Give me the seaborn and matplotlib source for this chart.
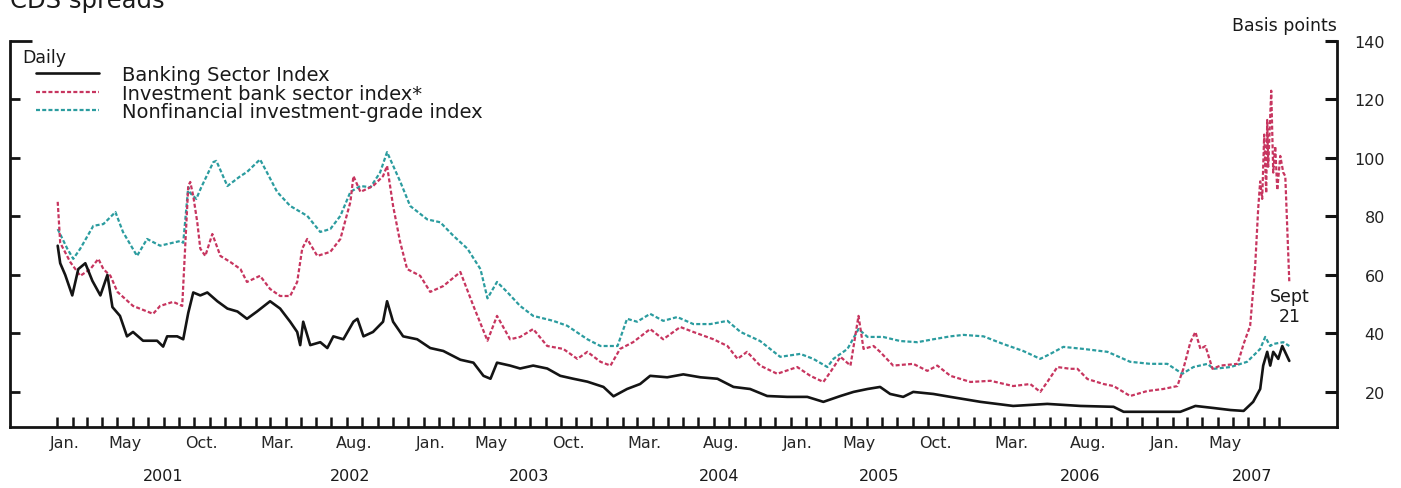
import matplotlib
matplotlib.use("Agg")
import matplotlib.pyplot as plt
import matplotlib.transforms as mtransforms
from matplotlib.lines import Line2D
import pandas as pd
import seaborn as sns

# ---- CDS spreads, basis points (daily, sampled at turning points) ----
bank_dates = [
    "2001-01-02", "2001-01-07", "2001-01-17", "2001-01-31", "2001-02-12", "2001-02-26",
    "2001-03-12", "2001-03-28", "2001-04-11", "2001-04-21", "2001-05-06", "2001-05-20",
    "2001-06-01", "2001-06-21", "2001-07-19", "2001-07-31", "2001-08-08", "2001-08-28",
    "2001-09-09", "2001-09-19", "2001-09-29", "2001-10-13", "2001-10-27", "2001-11-16",
    "2001-12-06", "2001-12-26", "2002-01-14", "2002-02-03", "2002-03-01", "2002-03-21",
    "2002-04-10", "2002-04-24", "2002-04-30", "2002-05-06", "2002-05-20", "2002-06-09",
    "2002-06-23", "2002-07-05", "2002-07-25", "2002-08-14", "2002-08-22", "2002-09-03",
    "2002-09-22", "2002-10-12", "2002-10-20", "2002-11-01", "2002-11-21", "2002-12-19",
    "2003-01-14", "2003-02-09", "2003-03-15", "2003-04-10", "2003-04-30", "2003-05-14",
    "2003-05-27", "2003-06-22", "2003-07-12", "2003-08-07", "2003-09-04", "2003-09-30",
    "2003-10-26", "2003-11-23", "2003-12-25", "2004-01-14", "2004-02-10", "2004-03-07",
    "2004-03-27", "2004-04-30", "2004-06-01", "2004-07-05", "2004-08-08", "2004-09-09",
    "2004-10-12", "2004-11-15", "2004-12-25", "2005-02-03", "2005-03-07", "2005-04-10",
    "2005-05-06", "2005-06-03", "2005-06-28", "2005-07-18", "2005-08-13", "2005-09-02",
    "2005-10-12", "2005-11-15", "2006-01-14", "2006-03-20", "2006-05-27", "2006-08-01",
    "2006-10-06", "2006-10-26", "2006-12-12", "2007-02-16", "2007-03-18", "2007-04-23",
    "2007-05-27", "2007-06-22", "2007-07-11", "2007-07-25", "2007-07-31", "2007-08-08",
    "2007-08-14", "2007-08-20", "2007-08-30", "2007-09-07", "2007-09-21",
]
bank_bp = [
    70, 64, 60, 53, 62, 64, 58, 53, 60, 49,
    46, 39, 40.5, 37.5, 37.5, 35.5, 39, 39, 38, 47,
    54, 53, 54, 51, 48.5, 47.5, 45, 47.5, 51, 48.5,
    44, 40.5, 36, 44, 36, 37, 35, 39, 38, 44,
    45, 39, 40.5, 44, 51, 44, 39, 38, 35, 34,
    31, 30, 25.5, 24.5, 30, 29, 28, 29, 28, 25.5,
    24.5, 23.5, 21.7, 18.5, 21, 22.7, 25.5, 25, 26, 25,
    24.5, 21.7, 21, 18.6, 18.3, 18.3, 16.6, 18.6, 20, 21,
    21.7, 19.3, 18.3, 20, 19.3, 18.3, 16.6, 15.2, 15.9, 15.2,
    14.9, 13.2, 13.2, 13.2, 15.2, 14.5, 13.8, 13.5, 16.6, 21,
    29, 33.7, 29, 33.7, 31.3, 35.7, 30.6,
]

ib_dates = [
    "2001-01-02", "2001-01-07", "2001-01-27", "2001-02-16", "2001-03-08", "2001-03-24",
    "2001-04-03", "2001-04-17", "2001-05-01", "2001-06-01", "2001-07-11", "2001-07-25",
    "2001-08-20", "2001-09-07", "2001-09-19", "2001-09-23", "2001-09-29", "2001-10-07",
    "2001-10-13", "2001-10-23", "2001-11-06", "2001-11-22", "2001-12-12", "2002-01-01",
    "2002-01-14", "2002-02-09", "2002-03-01", "2002-03-21", "2002-04-10", "2002-04-24",
    "2002-05-04", "2002-05-14", "2002-06-03", "2002-06-29", "2002-07-19", "2002-08-08",
    "2002-08-14", "2002-08-28", "2002-09-22", "2002-10-12", "2002-10-20", "2002-11-01",
    "2002-11-15", "2002-11-29", "2002-12-25", "2003-01-14", "2003-02-09", "2003-03-15",
    "2003-04-10", "2003-05-08", "2003-05-27", "2003-06-22", "2003-07-12", "2003-08-07",
    "2003-09-04", "2003-10-06", "2003-11-03", "2003-11-23", "2003-12-19", "2004-01-08",
    "2004-01-27", "2004-02-22", "2004-03-27", "2004-04-22", "2004-05-26", "2004-06-21",
    "2004-07-31", "2004-08-28", "2004-09-17", "2004-10-06", "2004-11-01", "2004-12-05",
    "2005-01-14", "2005-02-09", "2005-03-07", "2005-03-21", "2005-04-10", "2005-04-30",
    "2005-05-16", "2005-05-26", "2005-06-15", "2005-06-28", "2005-07-24", "2005-09-02",
    "2005-09-30", "2005-10-20", "2005-11-15", "2005-12-25", "2006-02-03", "2006-03-20",
    "2006-04-23", "2006-05-13", "2006-05-27", "2006-06-16", "2006-07-12", "2006-07-26",
    "2006-08-15", "2006-09-16", "2006-10-06", "2006-11-08", "2006-12-12", "2007-01-13",
    "2007-02-10", "2007-02-22", "2007-03-08", "2007-03-18", "2007-03-28", "2007-04-07",
    "2007-04-21", "2007-05-07", "2007-06-10", "2007-06-22", "2007-07-05", "2007-07-15",
    "2007-07-21", "2007-07-25", "2007-07-29", "2007-08-02", "2007-08-06", "2007-08-08",
    "2007-08-10", "2007-08-16", "2007-08-20", "2007-08-24", "2007-08-28", "2007-09-03",
    "2007-09-09", "2007-09-13", "2007-09-21",
]
ib_bp = [
    85, 71, 64.4, 59.7, 62, 65.5, 62, 59.7, 54.2, 49.4,
    46.7, 49.4, 50.8, 49.4, 90.4, 91.8, 87, 78, 69, 66.5,
    74, 66.5, 64.4, 62, 57.6, 59.7, 55.2, 52.8, 52.8, 57.6,
    69, 72.3, 66.5, 67.9, 72.3, 85, 93.8, 88.4, 90.4, 93.8,
    97.3, 83.6, 71.3, 62, 59.7, 54.2, 56.2, 61, 49.4, 37.5,
    46, 38, 38.8, 41.5, 35.7, 34.7, 31.3, 33.7, 30.3, 29,
    34.7, 37, 41.5, 38, 42.2, 40.5, 38, 35.7, 31.3, 33.7,
    29, 26.2, 28.5, 25.5, 23.4, 26.8, 32, 29, 46, 34.7,
    35.7, 33.7, 29, 29.6, 27.2, 29, 25.5, 23.4, 23.8, 22,
    22.7, 20, 23.4, 28.5, 27.9, 27.9, 24.4, 22.7, 22, 18.6,
    20.3, 21, 22, 27.9, 37, 40.5, 34.7, 35.7, 27.9, 29,
    29.6, 36.4, 42.6, 63, 82.6, 92, 86, 108, 88, 113,
    97, 123, 95, 104, 89, 100.7, 95, 93.8, 57.6,
]

nf_dates = [
    "2001-01-02", "2001-01-21", "2001-02-02", "2001-02-16", "2001-03-14", "2001-04-03",
    "2001-04-27", "2001-05-12", "2001-06-09", "2001-06-29", "2001-07-25", "2001-09-03",
    "2001-09-09", "2001-09-19", "2001-09-23", "2001-10-05", "2001-10-15", "2001-11-08",
    "2001-11-14", "2001-12-06", "2002-01-01", "2002-01-14", "2002-02-09", "2002-02-23",
    "2002-03-15", "2002-04-10", "2002-05-14", "2002-06-09", "2002-06-29", "2002-07-19",
    "2002-08-08", "2002-08-28", "2002-09-17", "2002-10-06", "2002-10-20", "2002-11-15",
    "2002-12-05", "2003-01-08", "2003-02-03", "2003-03-01", "2003-03-29", "2003-04-24",
    "2003-05-08", "2003-05-27", "2003-06-16", "2003-07-12", "2003-08-07", "2003-09-16",
    "2003-10-14", "2003-11-23", "2003-12-19", "2004-01-22", "2004-02-10", "2004-03-01",
    "2004-03-27", "2004-04-22", "2004-05-20", "2004-06-21", "2004-07-25", "2004-08-28",
    "2004-09-23", "2004-11-01", "2004-12-11", "2005-01-20", "2005-02-15", "2005-03-15",
    "2005-03-27", "2005-04-24", "2005-05-16", "2005-06-03", "2005-07-04", "2005-08-07",
    "2005-09-10", "2005-10-12", "2005-11-15", "2005-12-11", "2006-01-20", "2006-02-28",
    "2006-04-09", "2006-05-13", "2006-06-02", "2006-06-28", "2006-08-07", "2006-09-24",
    "2006-11-08", "2006-12-18", "2007-01-21", "2007-02-20", "2007-03-14", "2007-04-11",
    "2007-04-23", "2007-05-27", "2007-06-29", "2007-07-25", "2007-08-04", "2007-08-14",
    "2007-08-20", "2007-09-09", "2007-09-21",
]
nf_bp = [
    75.7, 69, 65.5, 69, 76.8, 77.4, 81.5, 74.7, 66.5, 72.3,
    70, 71.6, 71, 90, 88, 86, 90, 98.6, 99, 90.4,
    93.8, 95.2, 99.5, 95, 88.4, 83.6, 80.2, 74.7, 75.7, 80.2,
    88.4, 90.4, 90, 95, 102, 92, 83.6, 79, 78, 73.4,
    69, 62, 52, 57.6, 54.2, 49.4, 46, 44.3, 42.6, 38,
    35.7, 35.7, 45, 44, 46.7, 44.3, 45.6, 43.2, 43.2, 44.3,
    40.5, 37.4, 32, 33, 31.3, 28.5, 31.3, 34.7, 41.5, 38.8,
    38.8, 37.4, 37, 38, 39, 39.5, 39, 36.4, 34, 31.3,
    33, 35.4, 34.7, 33.7, 30.3, 29.6, 29.6, 26.2, 28.5, 29.6,
    27.9, 28.5, 30.3, 34.7, 38.8, 35.7, 36.4, 37, 35.7,
]

series_labels = [
    "Banking Sector Index",
    "Investment bank sector index*",
    "Nonfinancial investment-grade index",
]
month_labels = ["Jan.", "May", "Oct.", "Mar.", "Aug.", "Jan.", "May", "Oct.", "Mar.",
                "Aug.", "Jan.", "May", "Oct.", "Mar.", "Aug.", "Jan.", "May"]
month_label_months = ["2001-01", "2001-05", "2001-10", "2002-03", "2002-08", "2003-01",
                      "2003-05", "2003-10", "2004-03", "2004-08", "2005-01", "2005-05",
                      "2005-10", "2006-03", "2006-08", "2007-01", "2007-05"]
year_labels = ["2001", "2002", "2003", "2004", "2005", "2006", "2007"]
year_label_at = ["2001-07-31", "2002-08-07", "2003-07-29", "2004-08-12",
                 "2005-06-26", "2006-08-01", "2007-07-08"]
y_ticks = [20, 40, 60, 80, 100, 120, 140]

# ---- style ----
sns.set_style("white")
plt.rcParams["font.family"] = ["DejaVu Sans"]
plt.rcParams["text.color"] = "#1a1a1a"

BLACK = "#141414"
RED = "#c7355f"
TEAL = "#2b9c9f"
DASH = (0, (1.8, 1.0))

W, H = 1401, 489
fig = plt.figure(figsize=(W / 100, H / 100), dpi=100)
fig.patch.set_facecolor("white")
ax = fig.add_axes([10 / W, 1 - 428 / H, 1327 / W, 386 / H])

sns.lineplot(x=pd.to_datetime(nf_dates), y=nf_bp, ax=ax, color=TEAL,
             linewidth=1.6, linestyle=DASH, legend=False, zorder=2)
sns.lineplot(x=pd.to_datetime(ib_dates), y=ib_bp, ax=ax, color=RED,
             linewidth=1.6, linestyle=DASH, legend=False, zorder=3)
sns.lineplot(x=pd.to_datetime(bank_dates), y=bank_bp, ax=ax, color=BLACK,
             linewidth=1.9, legend=False, zorder=4)

ax.set_xlim(pd.Timestamp("2000-09-29"), pd.Timestamp("2007-12-25"))
ax.set_ylim(8, 140)
ax.set_xlabel("")
ax.set_ylabel("")

for side in ("top", "right"):
    ax.spines[side].set_visible(False)
for side in ("left", "bottom"):
    ax.spines[side].set_linewidth(2.0)
    ax.spines[side].set_color(BLACK)

# monthly tick marks inside the frame, month names centred mid-month
month_starts = pd.date_range("2001-01-01", "2007-09-01", freq="MS")
ax.set_xticks(month_starts)
ax.set_xticklabels([""] * len(month_starts))
label_pos = [pd.Timestamp(m + "-16") for m in month_label_months]
ax.set_xticks(label_pos, minor=True)
ax.set_xticklabels(month_labels, minor=True)
ax.tick_params(axis="x", which="major", direction="in", length=7.5, width=1.8,
               color=BLACK, bottom=True, top=False)
ax.tick_params(axis="x", which="minor", length=0, pad=6, labelsize=11.5)

year_tf = mtransforms.blended_transform_factory(ax.transData, ax.transAxes)
for lab, d in zip(year_labels, year_label_at):
    ax.text(pd.Timestamp(d), (428 - 477) / 386, lab, transform=year_tf,
            ha="center", va="center", fontsize=11.5)

# left frame ticks (no labels), with a longer cap at the top
ax.set_yticks(y_ticks[:-1])
ax.set_yticks([140], minor=True)
ax.tick_params(axis="y", which="major", direction="in", length=7.5, width=2,
               color=BLACK, left=True, right=False, labelleft=False)
ax.tick_params(axis="y", which="minor", direction="in", length=16, width=2,
               color=BLACK, left=True, right=False, labelleft=False)

# right axis with the basis-point scale
ax2 = ax.twinx()
ax2.set_ylim(ax.get_ylim())
ax2.set_yticks(y_ticks)
ax2.set_yticklabels([str(v) for v in y_ticks])
for side in ("top", "left", "bottom"):
    ax2.spines[side].set_visible(False)
ax2.spines["right"].set_linewidth(2.0)
ax2.spines["right"].set_color(BLACK)
ax2.tick_params(axis="y", direction="in", length=9, width=2.2, color=BLACK,
                pad=34.5, labelsize=11.5, labelcolor="#222222")
for t in ax2.get_yticklabels():
    t.set_horizontalalignment("right")
ax2.grid(False)
ax.grid(False)

# legend
handles = [
    Line2D([], [], color=BLACK, linewidth=1.9),
    Line2D([], [], color=RED, linewidth=1.6, linestyle=DASH),
    Line2D([], [], color=TEAL, linewidth=1.6, linestyle=DASH),
]
ax.legend(handles, series_labels, loc="upper left",
          bbox_to_anchor=(36 / W, 1 - 66 / H), bbox_transform=fig.transFigure,
          frameon=False, fontsize=14, handlelength=3.25, handletextpad=1.15,
          labelspacing=-0.02, borderpad=0, borderaxespad=0)
fig.text(22 / W, 1 - 58 / H, "Daily", ha="left", va="center", fontsize=12.5)

ax.text(pd.Timestamp("2007-09-21"), 49.4, "Sept\n21", ha="center", va="center",
        fontsize=12.5, linespacing=1.15)

fig.text(1337 / W, 1 - 26 / H, "Basis points", ha="right", va="center", fontsize=12.5)
fig.text(10 / W, 1 - 8 / H, "CDS spreads", ha="left", va="baseline", fontsize=17.5)

fig.savefig("out.png", dpi=100, facecolor="white")
